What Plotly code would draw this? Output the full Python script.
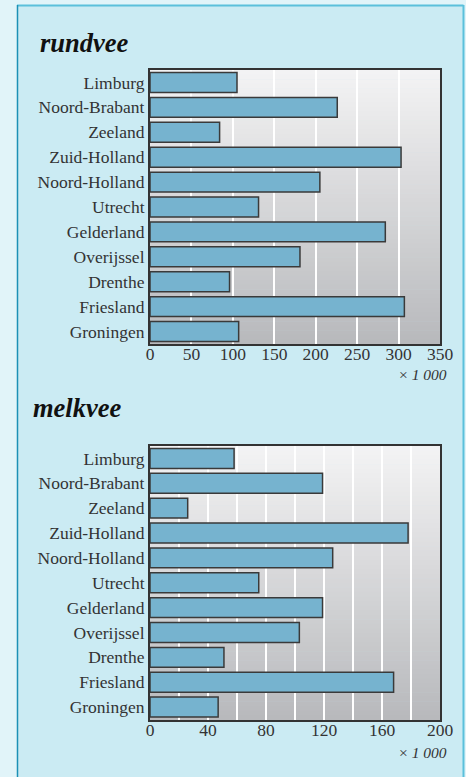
import plotly.graph_objects as go

provinces = ["Limburg", "Noord-Brabant", "Zeeland", "Zuid-Holland", "Noord-Holland",
             "Utrecht", "Gelderland", "Overijssel", "Drenthe", "Friesland", "Groningen"]
rundvee = [105, 226, 84, 303, 205, 131, 284, 181, 96, 307, 107]
melkvee = [58, 119, 26, 178, 126, 75, 119, 103, 51, 168, 47]
rund_ticks = [0, 50, 100, 150, 200, 250, 300, 350]
melk_ticks = [0, 40, 80, 120, 160, 200]

W, H = 466, 777
FONT = "Liberation Serif"
BAR = "#76b3cf"
EDGE = "#3a3a3a"

def py(px):
    return 1 - px / H

def px_x(px):
    return px / W

fig = go.Figure()
fig.add_trace(go.Bar(x=rundvee, y=provinces, orientation="h", xaxis="x", yaxis="y",
                     marker=dict(color=BAR, line=dict(color=EDGE, width=1.5)),
                     showlegend=False, hoverinfo="x+y"))
fig.add_trace(go.Bar(x=melkvee, y=provinces, orientation="h", xaxis="x2", yaxis="y2",
                     marker=dict(color=BAR, line=dict(color=EDGE, width=1.5)),
                     showlegend=False, hoverinfo="x+y"))

xdom = [px_x(150), px_x(440)]
axis_common = dict(showline=True, mirror=True, linecolor="#333333", linewidth=2,
                   ticks="", tickfont=dict(family=FONT, size=17.5, color="#333333"),
                   zeroline=False, fixedrange=True, automargin=False)

fig.update_layout(
    width=W, height=H, autosize=False,
    margin=dict(l=0, r=0, t=0, b=0, pad=0),
    paper_bgcolor="#e1f4f9",
    plot_bgcolor="rgba(0,0,0,0)",
    bargap=0.2,
    xaxis=dict(domain=xdom, anchor="y", range=[0, 350], tickvals=rund_ticks,
               showgrid=True, gridcolor="white", gridwidth=1.5, ticklabelstandoff=-7,
               **axis_common),
    yaxis=dict(domain=[py(344), py(70)], anchor="x", autorange="reversed",
               showgrid=False, ticklabelstandoff=0, **axis_common),
    xaxis2=dict(domain=xdom, anchor="y2", range=[0, 200], tickvals=melk_ticks,
                showgrid=True, gridcolor="white", gridwidth=1.5, ticklabelstandoff=-7,
                minor=dict(dtick=20, showgrid=True, gridcolor="white", gridwidth=1.5),
                **axis_common),
    yaxis2=dict(domain=[py(719.5), py(446)], anchor="x2", autorange="reversed",
                showgrid=False, ticklabelstandoff=0, **axis_common),
)

shapes = []
# panel
shapes.append(dict(type="rect", xref="paper", yref="paper", x0=px_x(17), x1=px_x(463.5),
                   y0=-0.01, y1=py(5), fillcolor="#cbebf3", line=dict(width=0), layer="below"))
shapes.append(dict(type="line", xref="paper", yref="paper", x0=px_x(17), x1=px_x(463.5),
                   y0=py(5.5), y1=py(5.5), line=dict(color="#5bc0db", width=2), layer="below"))
shapes.append(dict(type="line", xref="paper", yref="paper", x0=px_x(17.5), x1=px_x(17.5),
                   y0=-0.01, y1=py(5), line=dict(color="#1b90b6", width=1.5), layer="below"))
shapes.append(dict(type="line", xref="paper", yref="paper", x0=px_x(463.5), x1=px_x(463.5),
                   y0=-0.01, y1=py(5), line=dict(color="#5bc0db", width=2), layer="below"))

# gradient plot backgrounds
top_c = (243, 243, 244)
bot_c = (184, 185, 188)
N = 60
for xr, yr in [("x domain", "y domain"), ("x2 domain", "y2 domain")]:
    for i in range(N):
        t = (i + 0.5) / N
        c = tuple(round(top_c[k] + (bot_c[k] - top_c[k]) * t) for k in range(3))
        shapes.append(dict(type="rect", xref=xr, yref=yr, x0=0, x1=1,
                           y0=1 - (i + 1) / N - 0.002, y1=1 - i / N,
                           fillcolor="rgb(%d,%d,%d)" % c, line=dict(width=0), layer="below"))
fig.update_layout(shapes=shapes)

annos = [
    dict(text="<b><i>rundvee</i></b>", x=px_x(38), y=py(43)),
    dict(text="<b><i>melkvee</i></b>", x=px_x(31), y=py(408)),
]
for a in annos:
    fig.add_annotation(xref="paper", yref="paper", xanchor="left", yanchor="middle",
                       showarrow=False, font=dict(family=FONT, size=26.5, color="#111111"), **a)
for yy in [374, 752]:
    fig.add_annotation(text="× <i>1 000</i>", xref="paper", yref="paper", x=px_x(449), y=py(yy),
                       xanchor="right", yanchor="middle", showarrow=False,
                       font=dict(family=FONT, size=15.5, color="#333333"))

fig.write_html("out.html",
               config={"displayModeBar": False, "responsive": False},
               post_script="document.body.style.margin='0';"
                           "document.body.style.background='#e1f4f9';")
